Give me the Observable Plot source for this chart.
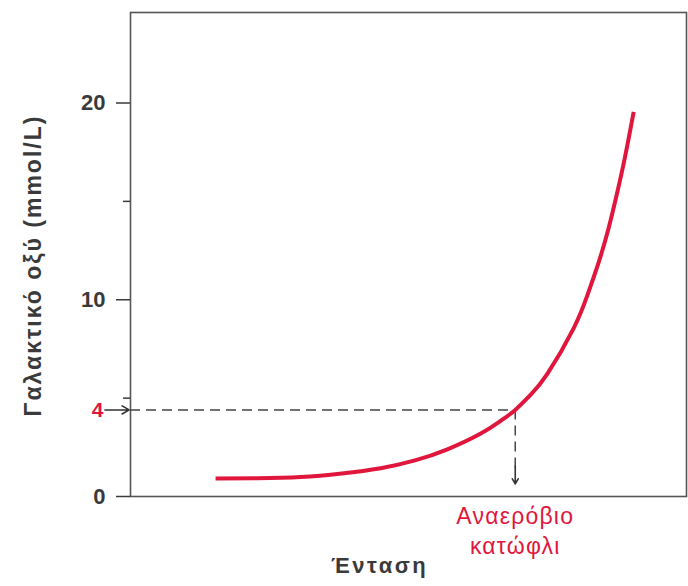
<!DOCTYPE html>
<html><head><meta charset="utf-8">
<script src="https://cdn.jsdelivr.net/npm/d3@7"></script>
<script src="https://cdn.jsdelivr.net/npm/@observablehq/plot@0.6"></script>
<style>
body{margin:0;background:#fff;}
#chart svg{display:block;}
</style></head><body><div id="chart"></div>
<script>
// Data (intensity is unitless, 0–100)
const intensity = [15.3, 22.8, 30.6, 38.0, 45.0, 51.0, 57.0, 63.0, 66.6, 69.2, 71.9, 75.0, 79.7, 82.2, 84.2, 86.0, 87.5, 88.9, 90.5];
const lactate   = [0.92, 0.93, 0.99, 1.17, 1.44, 1.82, 2.40, 3.20, 3.85, 4.40, 5.15, 6.25, 8.55, 10.25, 11.9, 13.65, 15.4, 17.2, 19.55];
const majorTicks = [0, 10, 20];
const minorTicks = [5, 15];
const thresholdX = 69.2;
const thresholdY = 4.4;
const thresholdTickLabel = "4";
const arrowFootY = 0.64;
const yLabel = "Γαλακτικό οξύ (mmol/L)";
const xLabel = "Ένταση";
const thresholdLabel = "Αναερόβιο\nκατώφλι";
const xDomain = [0, 100];
const yDomain = [0, 24.6];

const curve = intensity.map((x, i) => ({x, y: lactate[i]}));
const ink = "#3a3a3a";
const red = "#e1163c";

const chart = Plot.plot({
  width: 688, height: 586,
  marginLeft: 130, marginRight: 2, marginTop: 12, marginBottom: 90,
  style: {fontFamily: "'Liberation Sans', Arial, sans-serif", color: ink, background: "white"},
  x: {domain: xDomain, axis: null, label: null},
  y: {domain: yDomain, axis: null, label: null},
  marks: [
    Plot.frame({stroke: "#555", strokeWidth: 1.6}),
    Plot.axisY(majorTicks, {tickSize: 14, tickPadding: 11, fontSize: 22, fontWeight: "bold", color: ink, strokeWidth: 1.5, label: null}),
    Plot.axisY(minorTicks, {tickSize: 7, tickFormat: () => "", color: ink, strokeWidth: 1.5, label: null}),
    Plot.ruleY([thresholdY], {x1: xDomain[0], x2: thresholdX, stroke: "#444", strokeWidth: 1.5, strokeDasharray: "10,6"}),
    Plot.ruleX([thresholdX], {y1: thresholdY, y2: arrowFootY + 0.6, stroke: "#444", strokeWidth: 1.5, strokeDasharray: "10,6"}),
    Plot.arrow([0], {x1: thresholdX, x2: thresholdX, y1: arrowFootY + 0.9, y2: arrowFootY, stroke: "#333", strokeWidth: 1.6, headLength: 11}),
    Plot.arrow([0], {x1: -4.6, x2: -0.25, y1: thresholdY, y2: thresholdY, stroke: "#333", strokeWidth: 1.6, headLength: 10}),
    Plot.text([thresholdTickLabel], {x: -4.7, y: thresholdY, textAnchor: "end", dx: -1, fill: red, fontSize: 21, fontWeight: "bold"}),
    Plot.line(curve, {x: "x", y: "y", stroke: red, strokeWidth: 4, curve: "natural", strokeLinecap: "butt"}),
    Plot.text([yLabel], {frameAnchor: "left", textAnchor: "middle", rotate: -90, dx: -96.5, dy: 11, fontSize: 23, fontWeight: "bold", fill: ink}),
    Plot.text([xLabel], {x: 44.8, frameAnchor: "bottom", textAnchor: "middle", dy: 76, fontSize: 22, fontWeight: "bold", fill: ink}),
    Plot.text([thresholdLabel], {x: thresholdX, frameAnchor: "bottom", textAnchor: "middle", lineAnchor: "top", dy: 6, fontSize: 23, lineHeight: 1.3, fill: red})
  ]
});
const spacing = new Map([[yLabel, "2px"], [xLabel, "2.5px"], [thresholdLabel.replace("\n", ""), "1.2px"]]);
d3.select(chart).selectAll("text").each(function () {
  const s = spacing.get(this.textContent);
  if (s) this.style.letterSpacing = s;
});
document.getElementById("chart").appendChild(chart);
</script>
</body></html>
